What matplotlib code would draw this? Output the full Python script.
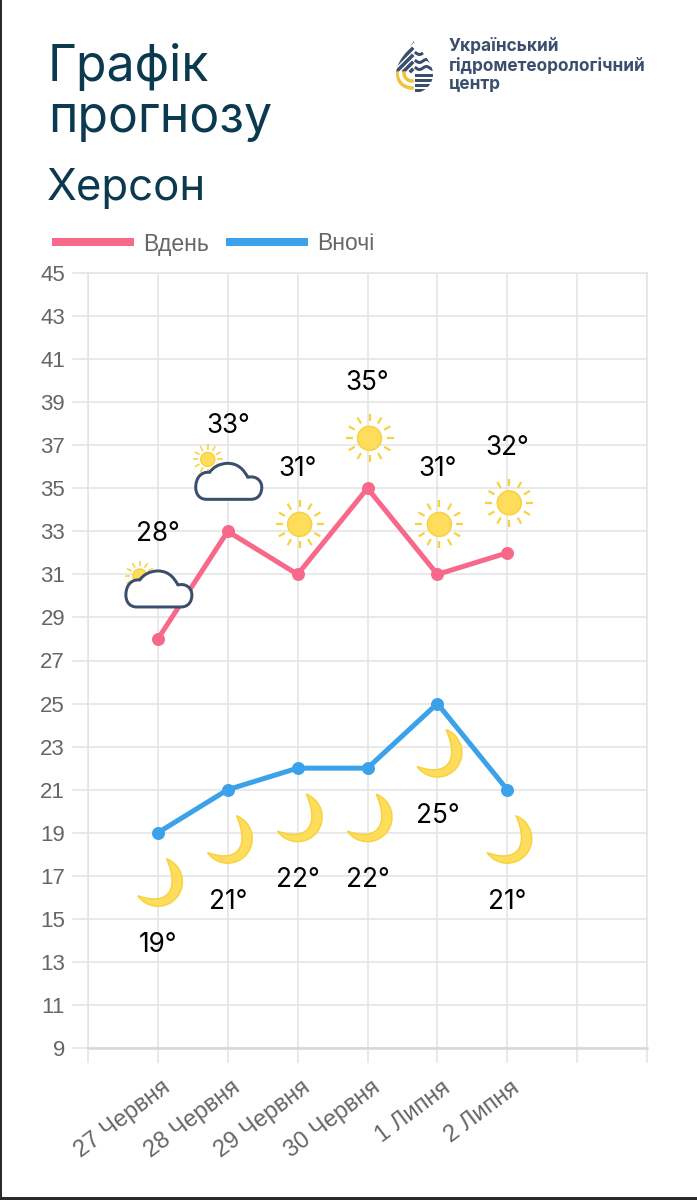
import numpy as np
import matplotlib
matplotlib.use('Agg')
import matplotlib.pyplot as plt
from matplotlib.path import Path
from matplotlib.patches import PathPatch, Circle, Rectangle
from matplotlib.transforms import Affine2D, ScaledTranslation

W, H = 697, 1200
TITLE_FONT = ['Inter', 'DejaVu Sans']
AXIS_FONT = ['Liberation Sans', 'DejaVu Sans']

# forecast data
dates = ['', '27 Червня', '28 Червня', '29 Червня', '30 Червня', '1 Липня', '2 Липня', '', '']
day_temps = [28, 33, 31, 35, 31, 32]
night_temps = [19, 21, 22, 22, 25, 21]
day_icons = ['cloud', 'cloud', 'sun', 'sun', 'sun', 'sun']
y_ticks = list(range(9, 46, 2))

PINK = '#F7688A'
BLUE = '#3BA1E8'
GRID = '#E4E4E4'
NAVY = '#3A4F6E'
SUN_FILL = '#FFDD5C'
SUN_EDGE = '#F7D23E'


def px(pt):
    # figure is saved at dpi 100
    return pt * 72 / 100


def at(x, y, ox, oy):
    # display transform anchored to a data point, offset in pixels (y up)
    cx, cy = ax.transData.transform((x, y))
    return Affine2D().translate(cx + ox, cy + oy)


def draw_sun(tr, r, r1, r2, lw, z=5):
    for a in np.deg2rad(np.arange(0, 360, 30)):
        ax.plot([r1 * np.cos(a), r2 * np.cos(a)], [r1 * np.sin(a), r2 * np.sin(a)],
                color=SUN_EDGE, lw=lw, transform=tr, clip_on=False, zorder=z, solid_capstyle='butt')
    ax.add_patch(Circle((0, 0), r, fc=SUN_FILL, ec=SUN_EDGE, lw=px(1.5), transform=tr, clip_on=False, zorder=z))


def draw_cloud(tr, z=6):
    verts = [(-22, -18), (22, -18),
             (30, -18), (33, -12), (33, -6),
             (33, 1), (27, 6), (19, 4),
             (15, 12), (9, 18), (-1, 18),
             (-9, 18), (-16, 14), (-19, 9),
             (-28, 10), (-33, 3), (-33, -6),
             (-33, -12), (-30, -18), (-22, -18)]
    codes = [Path.MOVETO, Path.LINETO] + [Path.CURVE4] * 18
    ax.add_patch(PathPatch(Path(verts, codes), fc='white', ec=NAVY, lw=px(3), transform=tr,
                           clip_on=False, zorder=z, joinstyle='round'))


def draw_moon(tr, z=5):
    outer = Path.arc(-145, 69)
    v = outer.vertices * 24.5
    verts = list(map(tuple, v)) + [(22, -7), (11, -25), (v[0][0], v[0][1])]
    codes = list(outer.codes) + [Path.CURVE4] * 3
    ax.add_patch(PathPatch(Path(verts, codes), fc=SUN_FILL, ec=SUN_EDGE, lw=px(1.5), transform=tr,
                           clip_on=False, zorder=z, joinstyle='round'))


fig = plt.figure(figsize=(W / 100, H / 100), dpi=100, facecolor='white')

# page layer in pixel coordinates for header, legend and logo
page = fig.add_axes([0, 0, 1, 1])
page.set_xlim(0, W)
page.set_ylim(H, 0)
page.axis('off')

ax = fig.add_axes([88 / W, 1 - 1048 / H, (647 - 88) / W, (1048 - 273) / H])
ax.patch.set_alpha(0)
ax.set_xlim(0, 8)
ax.set_ylim(9, 45)
ax.set_xticks(range(9))
ax.set_xticklabels(dates)
ax.set_yticks(y_ticks)
ax.grid(True, color=GRID, lw=px(1.6), zorder=0)
ax.set_axisbelow(True)
for side in ax.spines:
    ax.spines[side].set_color(GRID)
    ax.spines[side].set_linewidth(px(1.6))
ax.spines['bottom'].set_color('#D8D8D8')
ax.spines['bottom'].set_linewidth(px(2.5))
ax.tick_params(axis='y', length=px(16), width=px(1.6), color=GRID, pad=px(7), labelcolor='#666666', labelsize=16)
ax.tick_params(axis='x', length=px(15), width=px(1.6), color=GRID, pad=0, labelcolor='#666666', labelsize=17)
for t in ax.get_yticklabels():
    t.set_family(AXIS_FONT)
shift = ScaledTranslation(0.035, -0.135, fig.dpi_scale_trans)
for t in ax.get_xticklabels():
    t.set_family(AXIS_FONT)
    t.set_rotation(37)
    t.set_ha('right')
    t.set_va('top')
    t.set_rotation_mode('anchor')
    t.set_transform(t.get_transform() + shift)

xs = np.arange(1, len(day_temps) + 1)
ax.plot(xs, day_temps, color=PINK, lw=px(5), marker='o', ms=px(13), mew=0, zorder=3, clip_on=False)
ax.plot(xs, night_temps, color=BLUE, lw=px(5), marker='o', ms=px(13), mew=0, zorder=3, clip_on=False)

# little sun peeking out from behind each cloud, offset from the point in pixels
cloud_sun_offsets = [(-18, 63), (-20, 72)]

# weather icons and temperature labels above/below each point
clouds_drawn = 0
for x, t, icon in zip(xs, day_temps, day_icons):
    if icon == 'sun':
        draw_sun(at(x, t, 2, 50), 12, 17, 24, px(2.2))
    else:
        ox, oy = cloud_sun_offsets[clouds_drawn]
        clouds_drawn += 1
        draw_sun(at(x, t, ox, oy), 7, 9.5, 15, px(1.6))
        draw_cloud(at(x, t, 1, 50))
    ax.annotate(f'{t}°', (x, t), xytext=(0, px(105)), textcoords='offset points', ha='center', va='center',
                fontsize=18.8, color='black', family=TITLE_FONT, zorder=7, annotation_clip=False)
for x, t in zip(xs, night_temps):
    draw_moon(at(x, t, 0, -49))
    ax.annotate(f'{t}°', (x, t), xytext=(0, -px(112)), textcoords='offset points', ha='center', va='center',
                fontsize=18.8, color='black', family=TITLE_FONT, zorder=7, annotation_clip=False)

# header
page.text(48, 81, 'Графік', fontsize=36, color='#0B3A50', family=TITLE_FONT, va='baseline')
page.text(48, 132, 'прогнозу', fontsize=36, color='#0B3A50', family=TITLE_FONT, va='baseline')
page.text(47, 200, 'Херсон', fontsize=31.5, color='#0B3A50', family=TITLE_FONT, va='baseline')

# legend
page.add_patch(Rectangle((52, 238), 82, 8, fc=PINK, ec='none'))
page.text(143, 244, 'Вдень', fontsize=16.5, color='#666666', family=AXIS_FONT, va='center')
page.add_patch(Rectangle((226, 238), 82, 8, fc=BLUE, ec='none'))
page.text(317, 244, 'Вночі', fontsize=16.5, color='#666666', family=AXIS_FONT, va='center')

# logo: droplet outline used as clip for its stripes
drop_verts = [(414, 41), (421, 52), (433, 62), (433, 74), (433, 85), (424, 93), (414, 93),
              (405, 93), (396, 85), (396, 74), (396, 62), (407, 52), (414, 41)]
drop_codes = [Path.MOVETO] + [Path.CURVE4] * 12
drop = PathPatch(Path(drop_verts, drop_codes), fc='none', ec='none', transform=page.transData)
page.add_patch(drop)
lines = []
for y0 in (53, 61, 68):
    wx = np.linspace(416, 434, 30)
    lines += page.plot(wx, y0 + 1.5 * np.sin((wx - 416) / 2.2), color=NAVY, lw=px(3))
for y0 in (75, 80, 85, 90):
    lines += page.plot([416, 434], [y0, y0], color=NAVY, lw=px(3))
for y0 in (42, 49, 56, 63, 70):
    x0 = max(393, 412 - (71 - y0))
    lines += page.plot([x0, 412], [y0 + (412 - x0), y0], color=NAVY, lw=px(3.5))
for r in (8, 15):
    a = np.linspace(np.pi / 2, np.pi, 30)
    lines += page.plot(412 + r * np.cos(a), 73 + r * np.sin(a), color='#F2C23A', lw=px(3.5))
for ln in lines:
    ln.set_clip_path(drop)
page.text(449, 47, 'Український', fontsize=12.4, fontweight='bold', color=NAVY, family=TITLE_FONT, va='center')
page.text(449, 66, 'гідрометеорологічний', fontsize=12.4, fontweight='bold', color=NAVY, family=TITLE_FONT, va='center')
page.text(449, 85, 'центр', fontsize=12.4, fontweight='bold', color=NAVY, family=TITLE_FONT, va='center')

# dark frame on the left and bottom edges
page.add_patch(Rectangle((0, 0), 2, H, fc='#2A2A2A', ec='none', clip_on=False))
page.add_patch(Rectangle((0, 1197), W, 3, fc='#2A2A2A', ec='none', clip_on=False))

fig.savefig('out.png', dpi=100)
